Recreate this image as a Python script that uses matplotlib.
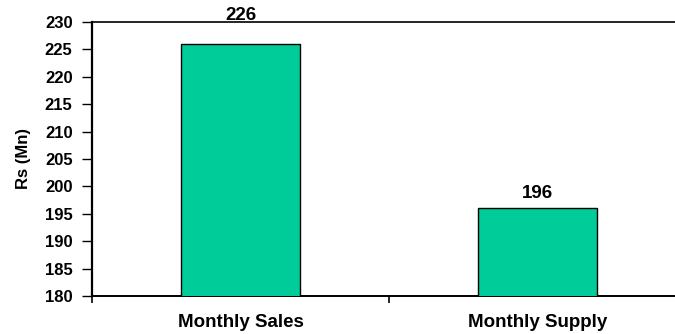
import matplotlib
matplotlib.use("Agg")
import matplotlib.pyplot as plt
from matplotlib.ticker import MultipleLocator, FixedLocator

# ── Data ────────────────────────────────────────────────────────────────────
categories = ["Monthly Sales", "Monthly Supply"]
values = [226, 196]
y_min, y_max, y_step = 180, 230, 5

BAR_COLOR = "#00CC99"

plt.rcParams.update({
    "font.family": ["Liberation Sans", "DejaVu Sans"],
    "font.weight": "bold",
})

fig = plt.figure(figsize=(6.75, 3.34), dpi=100)
# axes runs slightly past the right edge of the canvas
ax = fig.add_axes([0.1363, 0.1138, 0.88, 0.8204])

x = list(range(len(categories)))
ax.bar(x, values, width=0.4, color=BAR_COLOR, edgecolor="black",
       linewidth=1.0, zorder=3)

ax.set_xlim(-0.5, len(categories) - 0.5)
ax.set_ylim(y_min, y_max)
ax.yaxis.set_major_locator(MultipleLocator(y_step))

# category labels centred under bars, tick marks on the boundaries
ax.set_xticks(x)
ax.set_xticklabels(categories, fontsize=13.5, fontweight="bold")
ax.tick_params(axis="x", which="major", length=0, pad=13)
ax.xaxis.set_minor_locator(FixedLocator([i - 0.5 for i in range(len(categories) + 1)]))
ax.tick_params(axis="x", which="minor", length=5, width=1.2, direction="out")

ax.tick_params(axis="y", length=7, width=1.0, pad=7, labelsize=12)
for lab in ax.get_yticklabels():
    lab.set_fontweight("bold")

ax.set_ylabel("Rs (Mn)", fontsize=12, fontweight="bold", labelpad=10)

ax.spines["right"].set_visible(False)
ax.spines["left"].set_linewidth(1.6)
ax.spines["bottom"].set_linewidth(1.4)
ax.spines["top"].set_linewidth(1.2)

# value labels: just above each bar, or above the frame for bars near the top
for xi, v in zip(x, values):
    y_lab = y_max + 0.4 if v > y_max - y_step else v + 1.9
    ax.text(xi, y_lab, f"{v}", ha="center", va="baseline",
            fontsize=13.5, fontweight="bold", clip_on=False)

fig.savefig("out.png", dpi=100)
